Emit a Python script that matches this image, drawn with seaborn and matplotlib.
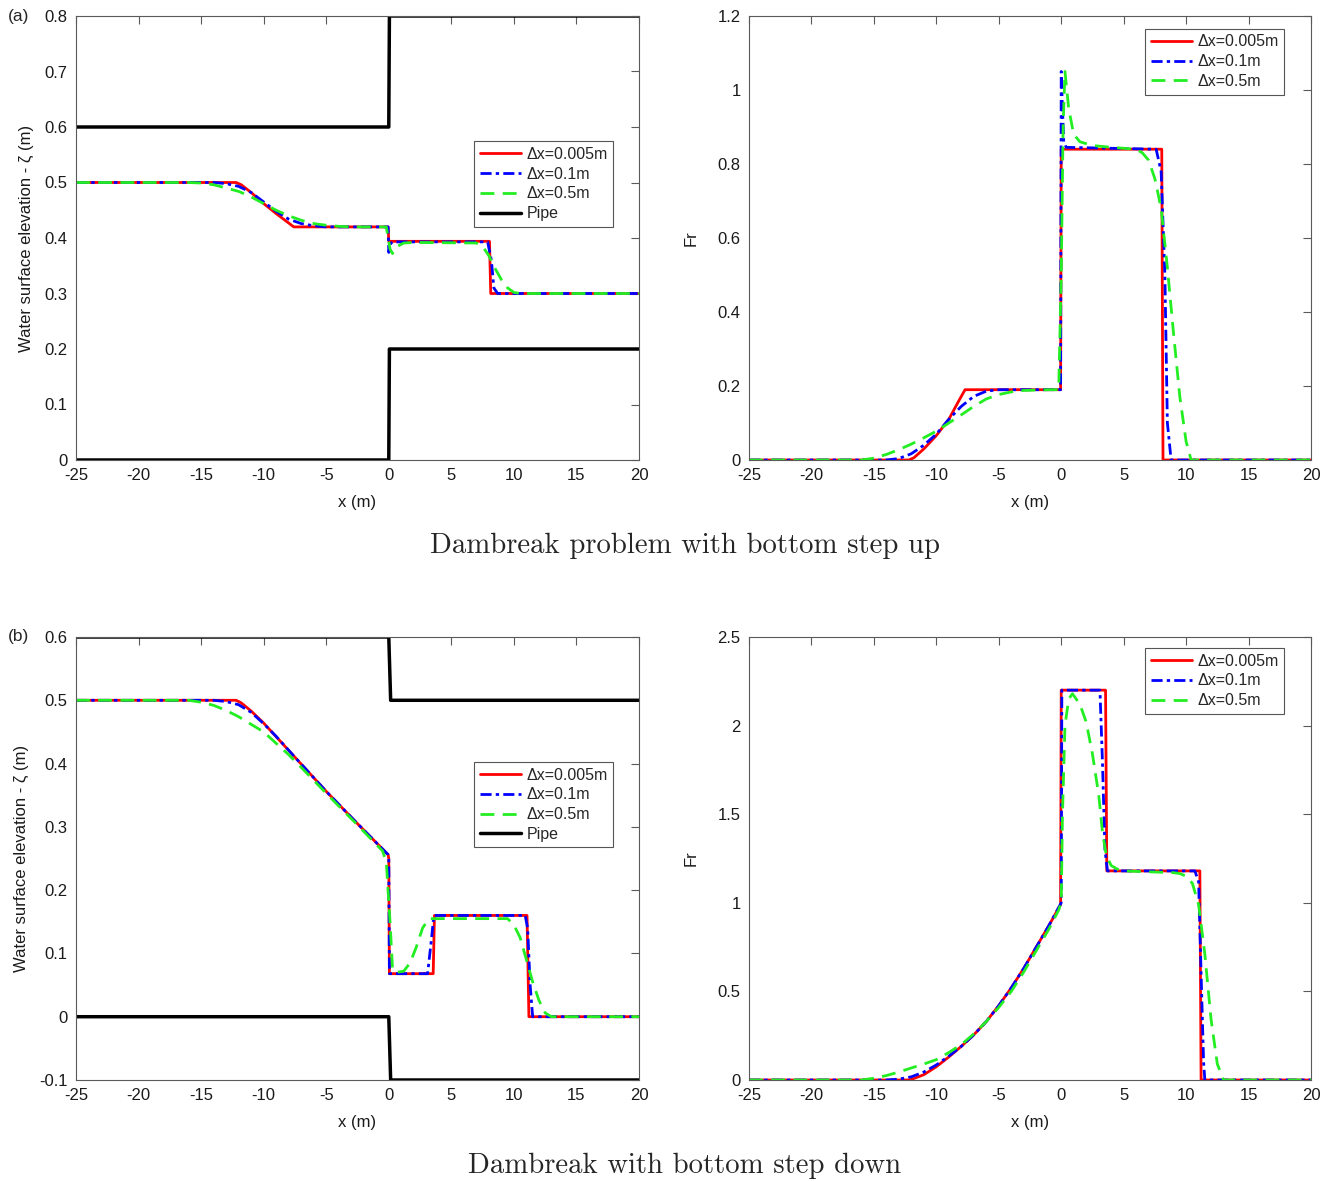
import numpy as np
import seaborn as sns
import matplotlib.pyplot as plt
from matplotlib.ticker import FuncFormatter

# ---- data ----
labels = ['Δx=0.005m', 'Δx=0.1m', 'Δx=0.5m']

# (a) step up: water surface elevation
a_zeta_fine = [(-25, 0.5), (-12.2, 0.5), (-11.8, 0.496), (-11, 0.482), (-10, 0.462), (-9, 0.444),
               (-8, 0.427), (-7.6, 0.42), (-0.05, 0.42), (0.0, 0.394), (8.05, 0.394), (8.15, 0.30), (20, 0.30)]
a_zeta_mid = [(-25, 0.5), (-14, 0.5), (-13, 0.498), (-12, 0.493), (-11, 0.482), (-10, 0.465), (-9, 0.448),
              (-8, 0.434), (-7, 0.426), (-6, 0.422), (-5, 0.42), (-0.05, 0.42), (0.0, 0.374), (0.15, 0.39),
              (0.3, 0.393), (7.9, 0.393), (8.2, 0.36), (8.4, 0.31), (8.7, 0.30), (20, 0.30)]
a_zeta_coarse = [(-25, 0.5), (-16, 0.5), (-15, 0.499), (-14, 0.496), (-13, 0.49), (-12, 0.484), (-11, 0.474),
                 (-10, 0.462), (-9, 0.45), (-8, 0.44), (-7, 0.432), (-6, 0.426), (-5, 0.423), (-4, 0.421),
                 (-3, 0.42), (-0.2, 0.42), (0.1, 0.38), (0.3, 0.372), (0.7, 0.385), (1.2, 0.391), (2, 0.392),
                 (7, 0.391), (7.5, 0.385), (8, 0.368), (8.5, 0.345), (9, 0.325), (9.5, 0.31), (10, 0.302),
                 (10.5, 0.30), (20, 0.30)]
a_pipe_top = [(-25, 0.6), (0, 0.6), (0.05, 0.8), (20, 0.8)]
a_pipe_bot = [(-25, 0.0), (0, 0.0), (0.05, 0.2), (20, 0.2)]

# (a) step up: Froude number
a_fr_fine = [(-25, 0), (-12.2, 0), (-11.8, 0.006), (-11, 0.03), (-10, 0.066), (-9, 0.11), (-8.2, 0.16),
             (-7.7, 0.19), (-0.05, 0.19), (0.0, 0.84), (8.05, 0.84), (8.15, 0.0), (20, 0)]
a_fr_mid = [(-25, 0), (-14, 0), (-13, 0.004), (-12, 0.017), (-11, 0.04), (-10, 0.07), (-9, 0.11), (-8, 0.145),
            (-7, 0.172), (-6, 0.186), (-5, 0.19), (-0.05, 0.19), (0.0, 1.05), (0.1, 0.95), (0.2, 0.86),
            (0.4, 0.845), (7.6, 0.84), (8.0, 0.78), (8.3, 0.5), (8.5, 0.1), (8.8, 0.0), (20, 0)]
a_fr_coarse = [(-25, 0), (-16, 0), (-15, 0.005), (-14, 0.015), (-13, 0.028), (-12, 0.043), (-11, 0.06),
               (-10, 0.078), (-9, 0.1), (-8, 0.122), (-7, 0.145), (-6, 0.165), (-5, 0.177), (-4, 0.184),
               (-3, 0.188), (-1, 0.19), (-0.2, 0.19), (0.0, 0.5), (0.15, 0.9), (0.3, 1.05), (0.6, 0.95),
               (1, 0.88), (1.5, 0.86), (2.5, 0.85), (4, 0.845), (6, 0.84), (6.5, 0.83), (7, 0.81), (7.5, 0.76),
               (8, 0.68), (8.5, 0.52), (9, 0.34), (9.5, 0.17), (10, 0.05), (10.4, 0.0), (20, 0)]

# (b) step down: water surface elevation
b_zeta_fine = [(-25, 0.5), (-12.2, 0.5), (-11.8, 0.496), (-11, 0.483), (-10, 0.464), (-7.5, 0.41),
               (-5, 0.356), (-2.5, 0.305), (-0.05, 0.256), (0.0, 0.25), (0.05, 0.068), (3.55, 0.068),
               (3.65, 0.16), (11.05, 0.16), (11.2, 0.0), (20, 0)]
b_zeta_mid = [(-25, 0.5), (-14, 0.5), (-13, 0.498), (-12, 0.493), (-11, 0.481), (-10, 0.463), (-9, 0.443),
              (-7.5, 0.41), (-5, 0.356), (-2.5, 0.305), (-0.05, 0.256), (0.0, 0.25), (0.05, 0.068),
              (3.1, 0.068), (3.4, 0.12), (3.6, 0.16), (10.9, 0.16), (11.1, 0.14), (11.3, 0.05), (11.5, 0.0),
              (20, 0)]
b_zeta_coarse = [(-25, 0.5), (-16, 0.5), (-15, 0.497), (-14, 0.492), (-13, 0.484), (-12, 0.474), (-11, 0.462),
                 (-10, 0.45), (-9, 0.432), (-8, 0.414), (-7, 0.394), (-5, 0.353), (-2.5, 0.303), (-0.5, 0.262),
                 (-0.2, 0.245), (0.1, 0.15), (0.3, 0.075), (0.6, 0.07), (1.2, 0.072), (1.7, 0.085),
                 (2.2, 0.11), (2.7, 0.14), (3.2, 0.155), (9.5, 0.155), (10, 0.145), (10.5, 0.125), (11, 0.09),
                 (11.5, 0.055), (12, 0.026), (12.5, 0.006), (13, 0.0), (20, 0)]
b_pipe_top = [(-25, 0.6), (0, 0.6), (0.15, 0.5), (20, 0.5)]
b_pipe_bot = [(-25, 0.0), (0, 0.0), (0.15, -0.1), (20, -0.1)]

# (b) step down: Froude number
b_fr_fine = [(-25, 0), (-12.3, 0), (-12, 0.003), (-11, 0.03), (-10, 0.075), (-9, 0.13), (-8, 0.19),
             (-7, 0.255), (-6, 0.33), (-5, 0.42), (-4, 0.52), (-3, 0.63), (-2, 0.75), (-1, 0.87),
             (-0.05, 0.99), (0.0, 2.2), (3.55, 2.2), (3.65, 1.18), (11.1, 1.18), (11.2, 0.0), (20, 0)]
b_fr_mid = [(-25, 0), (-14, 0), (-13, 0.005), (-12, 0.018), (-11, 0.045), (-10, 0.085), (-9, 0.135),
            (-8, 0.19), (-7, 0.255), (-6, 0.33), (-5, 0.42), (-4, 0.52), (-3, 0.63), (-2, 0.75), (-1, 0.87),
            (0.0, 1.0), (0.05, 2.2), (3.1, 2.2), (3.3, 1.8), (3.5, 1.3), (3.7, 1.18), (10.7, 1.18),
            (11.0, 1.12), (11.2, 0.6), (11.4, 0.1), (11.5, 0.0), (20, 0)]
b_fr_coarse = [(-25, 0), (-16, 0), (-15, 0.01), (-14, 0.025), (-13, 0.045), (-12, 0.068), (-11, 0.09),
               (-10, 0.115), (-9, 0.155), (-8, 0.2), (-7, 0.26), (-6, 0.33), (-5, 0.41), (-4, 0.5),
               (-3, 0.61), (-2, 0.73), (-1, 0.85), (-0.2, 0.96), (0, 1.0), (0.1, 1.5), (0.3, 2.0),
               (0.6, 2.15), (0.9, 2.18), (1.5, 2.12), (2, 2.02), (2.5, 1.84), (3, 1.61), (3.3, 1.4),
               (3.6, 1.27), (4, 1.21), (4.5, 1.19), (5, 1.18), (9, 1.17), (9.5, 1.165), (10, 1.15),
               (10.5, 1.11), (11, 0.99), (11.5, 0.71), (12, 0.34), (12.5, 0.09), (13, 0.0), (20, 0)]

# ---- styling ----
sns.set_style('white')
plt.rcParams['font.family'] = ['Liberation Sans', 'DejaVu Sans']
plt.rcParams['axes.unicode_minus'] = False

RED, BLUE, GREEN = (1, 0, 0), (0, 0, 1), '#22ee22'
W, H = 1327, 1181


def px_axes(fig, left, top, right, bottom):
    return fig.add_axes([left / W, 1 - bottom / H, (right - left) / W, (bottom - top) / H])


def draw(ax, pts, color, dashes, label, lw=2.0):
    xs = [p[0] for p in pts]
    ys = [p[1] for p in pts]
    sns.lineplot(x=xs, y=ys, ax=ax, sort=False, estimator=None, color=color, lw=lw, label=label)
    if dashes:
        ax.lines[-1].set_dashes(dashes)


def dress(ax, ylim, yticks, ylabel, ylab_off, leg_anchor):
    ax.set_xlim(-25, 20)
    ax.set_ylim(*ylim)
    ax.set_xticks(np.arange(-25, 21, 5))
    ax.set_yticks(yticks)
    fmt = FuncFormatter(lambda v, p: f'{round(v, 3):g}')
    ax.xaxis.set_major_formatter(fmt)
    ax.yaxis.set_major_formatter(fmt)
    ax.tick_params(direction='in', top=True, right=True, length=6, width=0.8,
                   colors='#5a5a5a', labelcolor='#1a1a1a', labelsize=12, pad=6)
    for s in ax.spines.values():
        s.set_color('#5a5a5a')
        s.set_linewidth(0.8)
    ax.set_xlabel('x (m)', fontsize=12, color='#1a1a1a')
    ax.set_ylabel(ylabel, fontsize=12, color='#1a1a1a')
    ax.xaxis.set_label_coords(0.5, -0.078)
    ax.yaxis.set_label_coords(ylab_off, 0.5)
    leg = ax.legend(loc='upper right', bbox_to_anchor=leg_anchor, fontsize=11.5, frameon=True,
                    fancybox=False, framealpha=1, edgecolor='#555555', handlelength=2.6,
                    handletextpad=0.3, labelspacing=0.3, borderpad=0.35, borderaxespad=0)
    leg.get_frame().set_linewidth(0.8)


fig = plt.figure(figsize=(W / 100, H / 100), dpi=100)

DASH_DOT = [4, 1.5, 1.2, 1.5]
DASH = [5, 3]

# (a) left
ax = px_axes(fig, 76, 16, 639, 460)
draw(ax, a_zeta_fine, RED, None, labels[0])
draw(ax, a_zeta_mid, BLUE, DASH_DOT, labels[1])
draw(ax, a_zeta_coarse, GREEN, DASH, labels[2])
draw(ax, a_pipe_top, 'black', None, 'Pipe', lw=2.5)
draw(ax, a_pipe_bot, 'black', None, None, lw=2.5)
dress(ax, (0, 0.8), np.arange(0, 0.81, 0.1), 'Water surface elevation - ζ (m)', -0.075, (0.954, 0.718))
fig.text(8 / W, 1 - 17 / H, '(a)', fontsize=12.5, va='center', ha='left')

# (a) right
ax = px_axes(fig, 749, 16, 1311, 460)
draw(ax, a_fr_fine, RED, None, labels[0])
draw(ax, a_fr_mid, BLUE, DASH_DOT, labels[1])
draw(ax, a_fr_coarse, GREEN, DASH, labels[2])
dress(ax, (0, 1.2), np.arange(0, 1.21, 0.2), 'Fr', -0.09, (0.952, 0.971))

# (b) left
ax = px_axes(fig, 76, 637, 639, 1080)
draw(ax, b_zeta_fine, RED, None, labels[0])
draw(ax, b_zeta_mid, BLUE, DASH_DOT, labels[1])
draw(ax, b_zeta_coarse, GREEN, DASH, labels[2])
draw(ax, b_pipe_top, 'black', None, 'Pipe', lw=2.5)
draw(ax, b_pipe_bot, 'black', None, None, lw=2.5)
dress(ax, (-0.1, 0.6), np.arange(-0.1, 0.61, 0.1), 'Water surface elevation - ζ (m)', -0.083, (0.954, 0.718))
fig.text(8 / W, 1 - 637 / H, '(b)', fontsize=12.5, va='center', ha='left')

# (b) right
ax = px_axes(fig, 749, 637, 1311, 1080)
draw(ax, b_fr_fine, RED, None, labels[0])
draw(ax, b_fr_mid, BLUE, DASH_DOT, labels[1])
draw(ax, b_fr_coarse, GREEN, DASH, labels[2])
dress(ax, (0, 2.5), np.arange(0, 2.51, 0.5), 'Fr', -0.09, (0.952, 0.975))

fig.text(685 / W, 1 - 546 / H, 'Dambreak problem with bottom step up', fontsize=20.7,
         family='cmr10', ha='center', va='center')
fig.text(685 / W, 1 - 1166 / H, 'Dambreak with bottom step down', fontsize=20.7,
         family='cmr10', ha='center', va='center')

fig.savefig('out.png', dpi=100, facecolor='white')
